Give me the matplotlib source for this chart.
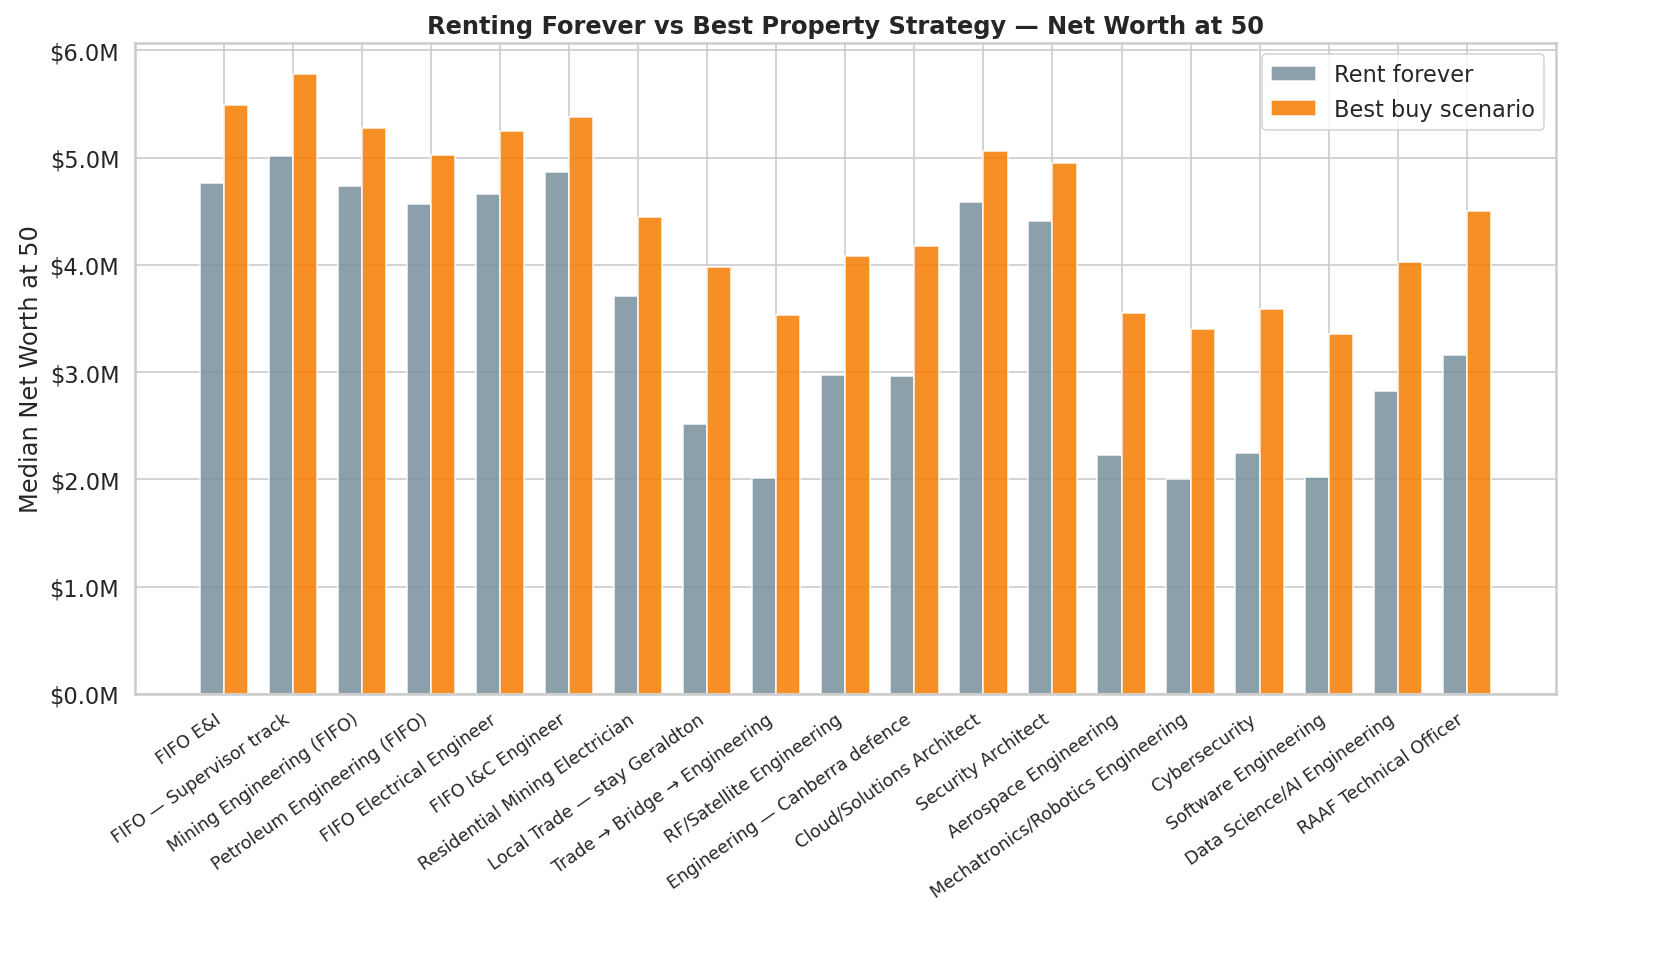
import matplotlib
matplotlib.use("Agg")
import matplotlib.pyplot as plt
import numpy as np
import seaborn as sns
from matplotlib.ticker import FuncFormatter

CAREERS = [
    "FIFO E&I",
    "FIFO — Supervisor track",
    "Mining Engineering (FIFO)",
    "Petroleum Engineering (FIFO)",
    "FIFO Electrical Engineer",
    "FIFO I&C Engineer",
    "Residential Mining Electrician",
    "Local Trade — stay Geraldton",
    "Trade → Bridge → Engineering",
    "RF/Satellite Engineering",
    "Engineering — Canberra defence",
    "Cloud/Solutions Architect",
    "Security Architect",
    "Aerospace Engineering",
    "Mechatronics/Robotics Engineering",
    "Cybersecurity",
    "Software Engineering",
    "Data Science/AI Engineering",
    "RAAF Technical Officer",
]
RENT_FOREVER = [4.76, 5.02, 4.74, 4.57, 4.66, 4.87, 3.71, 2.52, 2.01, 2.97,
                2.96, 4.59, 4.41, 2.23, 2.00, 2.25, 2.02, 2.82, 3.16]
BEST_BUY = [5.49, 5.78, 5.28, 5.03, 5.25, 5.38, 4.45, 3.98, 3.53, 4.08,
            4.18, 5.06, 4.95, 3.55, 3.40, 3.59, 3.36, 4.03, 4.50]

sns.set_theme(style="whitegrid")

fig, ax = plt.subplots(figsize=(1669 / 120, 980 / 120), dpi=120)
x = np.arange(len(CAREERS))
w = 0.35
ax.bar(x - w / 2, np.array(RENT_FOREVER) * 1e6, w, color="#78909C", alpha=0.85,
       edgecolor="white", label="Rent forever")
ax.bar(x + w / 2, np.array(BEST_BUY) * 1e6, w, color="#F57C00", alpha=0.85,
       edgecolor="white", label="Best buy scenario")

ax.set_xticks(x)
ax.set_xticklabels(CAREERS, rotation=35, ha="right", fontsize=10.5)
ax.tick_params(axis="y", labelsize=13.5)
ax.yaxis.set_major_formatter(FuncFormatter(lambda v, _: f"${v / 1e6:.1f}M"))
ax.set_ylabel("Median Net Worth at 50", fontsize=14.5)
ax.set_title("Renting Forever vs Best Property Strategy — Net Worth at 50",
             fontsize=14.5, fontweight="bold")
ax.legend(loc="upper right", fontsize=13.5)
for s in ax.spines.values():
    s.set_linewidth(1.5)

fig.subplots_adjust(left=0.081, right=0.932, top=0.955, bottom=0.291)
fig.savefig("out.png", dpi=120)
